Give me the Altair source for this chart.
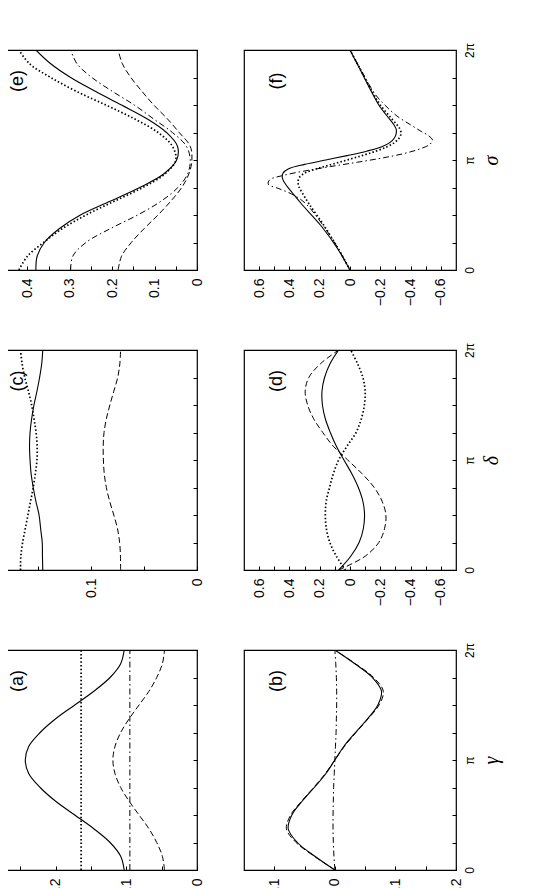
import altair as alt
import pandas as pd
import numpy as np

PI = np.pi

# angle samples in units of pi
GRID = [0, 0.125, 0.25, 0.375, 0.5, 0.625, 0.75, 0.875, 1.0,
        1.125, 1.25, 1.375, 1.5, 1.625, 1.75, 1.875, 2.0]
ENDS = [0, 2.0]

# ---- panel (e): sigma, values ----
e_solid = [0.380, 0.377, 0.360, 0.325, 0.275, 0.205, 0.135, 0.078, 0.048,
           0.046, 0.072, 0.118, 0.178, 0.240, 0.298, 0.345, 0.380]
e_dotted = [0.420, 0.400, 0.362, 0.318, 0.262, 0.195, 0.128, 0.075, 0.050,
            0.058, 0.092, 0.148, 0.215, 0.285, 0.345, 0.395, 0.420]
e_dashdot = [0.298, 0.293, 0.262, 0.205, 0.140, 0.085, 0.045, 0.022, 0.016,
             0.025, 0.058, 0.103, 0.148, 0.200, 0.248, 0.283, 0.298]
e_dashed = [0.186, 0.178, 0.155, 0.125, 0.092, 0.062, 0.036, 0.019, 0.012,
            0.016, 0.042, 0.070, 0.102, 0.130, 0.156, 0.176, 0.186]

# ---- panel (f) ----
f_ang = [0, 0.2, 0.4, 0.6, 0.7, 0.76, 0.8, 0.84, 0.88, 0.92, 0.96, 1.0, 1.04,
         1.08, 1.12, 1.16, 1.2, 1.24, 1.28, 1.32, 1.4, 1.5, 1.6, 1.8, 2.0]
f_solid = [0.0, 0.085, 0.19, 0.32, 0.38, 0.415, 0.435, 0.447, 0.443, 0.405,
           0.30, 0.16, 0.02, -0.11, -0.21, -0.265, -0.293, -0.305, -0.305,
           -0.29, -0.245, -0.19, -0.15, -0.075, 0.0]
f_dotted = [0.0, 0.08, 0.17, 0.27, 0.315, 0.338, 0.343, 0.335, 0.30, 0.22,
            0.12, 0.02, -0.08, -0.17, -0.245, -0.295, -0.325, -0.337, -0.33,
            -0.31, -0.26, -0.2, -0.155, -0.078, 0.0]
f_dd_ang = [0, 0.2, 0.4, 0.6, 0.68, 0.74, 0.78, 0.82, 0.86, 0.90, 0.94, 0.98,
            1.02, 1.06, 1.10, 1.14, 1.18, 1.22, 1.26, 1.32, 1.4, 1.5, 1.6,
            1.8, 2.0]
f_dashdot = [0.0, 0.08, 0.175, 0.29, 0.37, 0.47, 0.54, 0.53, 0.44, 0.30, 0.13,
             -0.05, -0.22, -0.36, -0.46, -0.525, -0.545, -0.52, -0.47, -0.40,
             -0.31, -0.23, -0.165, -0.08, 0.0]

# ---- panel (c) ----
c_solid = [0.1455, 0.1458, 0.146, 0.1475, 0.149, 0.152, 0.1545, 0.1565, 0.1575,
           0.158, 0.1575, 0.156, 0.1538, 0.151, 0.1485, 0.1465, 0.1455]
c_dotted = [0.1665, 0.1662, 0.1645, 0.162, 0.1595, 0.157, 0.1545, 0.1525, 0.151,
            0.1508, 0.1518, 0.1538, 0.156, 0.159, 0.1625, 0.165, 0.1665]
c_dashed = [0.0721, 0.0722, 0.073, 0.075, 0.0785, 0.0824, 0.0855, 0.0875, 0.0883,
            0.0885, 0.0877, 0.0855, 0.0822, 0.0785, 0.0748, 0.0728, 0.0721]

# ---- panel (d) ----
d_solid = [0.075, -0.005, -0.06, -0.088, -0.096, -0.085, -0.055, -0.012, 0.04,
           0.09, 0.13, 0.163, 0.182, 0.185, 0.168, 0.132, 0.075]
d_dashed = [0.075, -0.10, -0.19, -0.228, -0.237, -0.212, -0.16, -0.08, 0.015,
            0.11, 0.18, 0.24, 0.28, 0.296, 0.272, 0.195, 0.075]
d_dotted = [0.03, 0.09, 0.133, 0.156, 0.163, 0.157, 0.135, 0.11, 0.075,
            0.02, -0.04, -0.075, -0.095, -0.10, -0.085, -0.05, -0.005]

# ---- panel (a) ----
a_solid = [0.103, 0.108, 0.123, 0.146, 0.173, 0.200, 0.222, 0.238, 0.243,
           0.238, 0.222, 0.200, 0.173, 0.146, 0.123, 0.108, 0.103]
a_dashed = [0.046, 0.049, 0.057, 0.068, 0.082, 0.096, 0.108, 0.116, 0.119,
            0.116, 0.108, 0.096, 0.082, 0.068, 0.057, 0.049, 0.046]
a_dotted = [0.164, 0.164]
a_dashdot = [0.095, 0.095]

# ---- panel (b) ----
b_solid = [0.0, 0.033, 0.062, 0.077, 0.071, 0.054, 0.034, 0.015, 0.0,
           -0.015, -0.034, -0.054, -0.071, -0.077, -0.062, -0.033, 0.0]
b_dashed = [0.0, 0.034, 0.064, 0.080, 0.073, 0.055, 0.035, 0.016, 0.0,
            -0.016, -0.035, -0.055, -0.073, -0.080, -0.064, -0.034, 0.0]
b_dashdot = [0.0, 0.0015, 0.0025, 0.003, 0.003, 0.0025, 0.002, 0.001, 0.0,
             -0.001, -0.002, -0.0025, -0.003, -0.003, -0.0025, -0.0015, 0.0]

STY = {
    "solid": dict(strokeWidth=1.1),
    "dotted": dict(strokeDash=[1.5, 2.2], strokeWidth=1.7),
    "dashdot": dict(strokeDash=[6, 3, 1.5, 3], strokeWidth=1.0),
    "dashed": dict(strokeDash=[6, 3], strokeWidth=1.0),
}

SANS = "Liberation Sans"
W, H = 212, 220


def panel(label, series, xdom, xticks, step, show_labels, title):
    rows = []
    for name, angs, vals, sty in series:
        for a, v in zip(angs, vals):
            rows.append({"t": a * PI, "v": v, "s": name})
    df = pd.DataFrame(rows)
    lab_test = f"abs(datum.value/{step} - round(datum.value/{step})) < 0.001"
    xaxis = alt.Axis(
        values=xticks,
        labelExpr=f"{lab_test} ? (abs(datum.value) < 1e-9 ? '0' : format(datum.value, '.1f')) : ''",
        tickSize=4, offset=-4, domain=False, grid=False,
        labelAngle=270, labelAlign="right", labelBaseline="middle",
        labelPadding=8, labelFontSize=14, labelFont=SANS, labelColor="black",
        labelOverlap=False, labelFlush=False, tickColor="black", title=None,
    )
    ykw = dict(
        values=[k * PI / 4 for k in range(9)], orient="right",
        tickSize=4, offset=-4, domain=False, grid=False, tickColor="black",
    )
    if show_labels:
        ykw.update(
            labelExpr="abs(datum.value) < 0.01 ? '0' : (abs(datum.value - PI) < 0.01 ? 'π' : (abs(datum.value - 2*PI) < 0.01 ? '2π' : ''))",
            labelAngle=270, labelAlign="center", labelBaseline="top",
            labelPadding=8, labelFontSize=12, labelFont=SANS, labelColor="black",
            labelOverlap=False, labelFlush=False,
            title=title, titleAngle=270, titleBaseline="top",
            titleFont="Liberation Serif", titleFontStyle="italic",
            titleFontWeight="normal", titleFontSize=20, titlePadding=6,
            titleColor="black",
        )
    else:
        ykw.update(labels=False, title=None)
    yaxis = alt.Axis(**ykw)
    xenc = alt.X("v:Q", scale=alt.Scale(domain=xdom, reverse=True, nice=False, zero=False), axis=xaxis)
    yenc = alt.Y("t:Q", scale=alt.Scale(domain=[0, 2 * PI], nice=False, zero=False), axis=yaxis)
    layers = []
    for name, angs, vals, sty in series:
        layers.append(
            alt.Chart(df).transform_filter(alt.datum.s == name)
            .mark_line(clip=True, interpolate="catmull-rom", color="black", **STY[sty])
            .encode(x=xenc, y=yenc, order="t:Q")
        )
    txt = alt.Chart(pd.DataFrame({"lab": [label]})).mark_text(
        angle=270, fontSize=18, font=SANS, align="center", baseline="middle", color="black"
    ).encode(text="lab:N", x=alt.value(33), y=alt.value(31))
    layers.append(txt)
    return alt.layer(*layers).properties(width=W, height=H)


pe = panel("(e)", [("s1", GRID, e_solid, "solid"), ("s2", GRID, e_dotted, "dotted"),
                   ("s3", GRID, e_dashdot, "dashdot"), ("s4", GRID, e_dashed, "dashed")],
           [0, 0.5], [0, 0.05, 0.1, 0.15, 0.2, 0.25, 0.3, 0.35, 0.4, 0.45], 0.1, False, None)
pf = panel("(f)", [("s1", f_ang, f_solid, "solid"), ("s2", f_ang, f_dotted, "dotted"),
                   ("s3", f_dd_ang, f_dashdot, "dashdot")],
           [-0.7, 0.7], [-0.6, -0.5, -0.4, -0.3, -0.2, -0.1, 0, 0.1, 0.2, 0.3, 0.4, 0.5, 0.6],
           0.2, True, "σ")
pc = panel("(c)", [("s1", GRID, c_solid, "solid"), ("s2", GRID, c_dotted, "dotted"),
                   ("s4", GRID, c_dashed, "dashed")],
           [0, 0.2], [0, 0.05, 0.1, 0.15], 0.1, False, None)
pd_ = panel("(d)", [("s1", GRID, d_solid, "solid"), ("s2", GRID, d_dotted, "dotted"),
                    ("s4", GRID, d_dashed, "dashed")],
            [-0.7, 0.7], [-0.6, -0.5, -0.4, -0.3, -0.2, -0.1, 0, 0.1, 0.2, 0.3, 0.4, 0.5, 0.6],
            0.2, True, "δ")
pa = panel("(a)", [("s1", GRID, a_solid, "solid"), ("s2", ENDS, a_dotted, "dotted"),
                   ("s3", ENDS, a_dashdot, "dashdot"), ("s4", GRID, a_dashed, "dashed")],
           [0, 0.3], [0, 0.05, 0.1, 0.15, 0.2, 0.25], 0.1, False, None)
pb = panel("(b)", [("s1", GRID, b_solid, "solid"), ("s4", GRID, b_dashed, "dashed"),
                   ("s3", GRID, b_dashdot, "dashdot")],
           [-0.2, 0.15], [-0.2, -0.15, -0.1, -0.05, 0, 0.05, 0.1], 0.1, True, "γ")

chart = alt.concat(pe, pf, pc, pd_, pa, pb, columns=2,
                   spacing={"row": 80, "column": 47}, bounds="flush").properties(
    padding={"left": -24, "top": 33, "right": 5, "bottom": 0}
).configure_view(stroke="black", strokeWidth=1.2)

chart.save("out.html", embed_options={"renderer": "svg", "actions": False})
